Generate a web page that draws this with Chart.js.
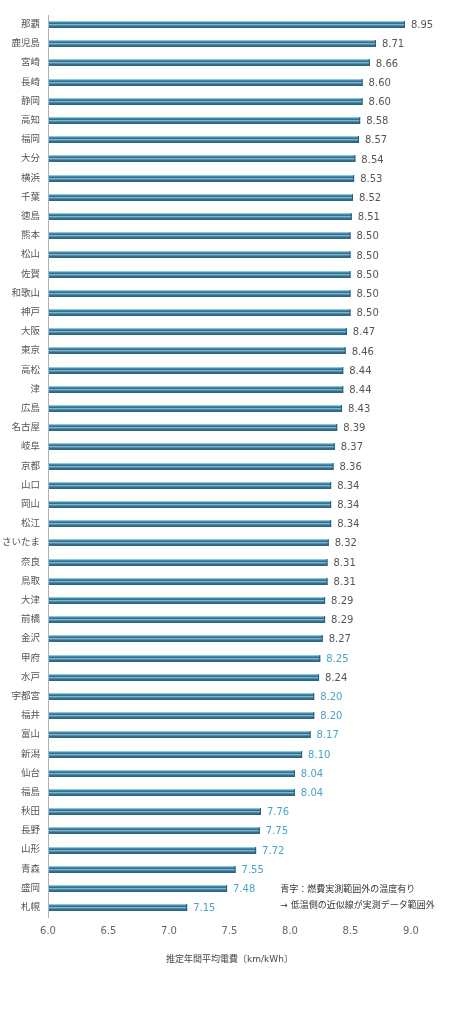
<!DOCTYPE html>
<html>
<head>
<meta charset="utf-8">
<script src="https://cdn.jsdelivr.net/npm/chart.js@4.4.1/dist/chart.umd.min.js"></script>
<style>
  html, body { margin: 0; padding: 0; background: #fff; }
  #wrap { width: 456px; height: 1024px; }
</style>
</head>
<body>
<div id="wrap"><canvas id="myChart" width="456" height="1024"></canvas></div>
<script>
// data
const cities = ['那覇', '鹿児島', '宮崎', '長崎', '静岡', '高知', '福岡', '大分', '横浜', '千葉',
  '徳島', '熊本', '松山', '佐賀', '和歌山', '神戸', '大阪', '東京', '高松', '津',
  '広島', '名古屋', '岐阜', '京都', '山口', '岡山', '松江', 'さいたま', '奈良', '鳥取',
  '大津', '前橋', '金沢', '甲府', '水戸', '宇都宮', '福井', '富山', '新潟', '仙台',
  '福島', '秋田', '長野', '山形', '青森', '盛岡', '札幌'];

const efficiency = [8.95, 8.71, 8.66, 8.60, 8.60, 8.58, 8.57, 8.54, 8.53, 8.52,
  8.51, 8.50, 8.50, 8.50, 8.50, 8.50, 8.47, 8.46, 8.44, 8.44,
  8.43, 8.39, 8.37, 8.36, 8.34, 8.34, 8.34, 8.32, 8.31, 8.31,
  8.29, 8.29, 8.27, 8.25, 8.24, 8.20, 8.20, 8.17, 8.10, 8.04,
  8.04, 7.76, 7.75, 7.72, 7.55, 7.48, 7.15];

// true = 燃費実測範囲外の温度有り (blue label)
const outOfRange = [false, false, false, false, false, false, false, false, false, false,
  false, false, false, false, false, false, false, false, false, false,
  false, false, false, false, false, false, false, false, false, false,
  false, false, false, true, false, true, true, true, true, true,
  true, true, true, true, true, true, true];

const xTicks = [6.0, 6.5, 7.0, 7.5, 8.0, 8.5, 9.0];
const axisTitle = '推定年間平均電費〔km/kWh〕';
const noteLines = ['青字：燃費実測範囲外の温度有り', '→ 低温側の近似線が実測データ範囲外'];

const FONT = '"DejaVu Sans", "Noto Sans CJK JP", sans-serif';

// stripes on each bar
const barStripes = {
  id: 'barStripes',
  afterDatasetsDraw(chart) {
    const c = chart.ctx;
    const area = chart.chartArea;
    const meta = chart.getDatasetMeta(0);
    const rows = ['#8cc4d8', '#4a8cac', '#336d8a', '#7fb8ce', '#4a8cac', '#336d8a', '#2f6580'];
    c.save();
    c.beginPath();
    c.rect(area.left, area.top, area.right - area.left, area.bottom - area.top);
    c.clip();
    meta.data.forEach(function(bar) {
      const left = area.left + 1;
      const w = bar.x - left;
      const top = Math.round(bar.y - rows.length / 2);
      rows.forEach(function(col, i) {
        c.fillStyle = col;
        c.fillRect(left, top + i, w, 1);
      });
      c.fillStyle = '#2a5d77';
      c.fillRect(bar.x - 1, top, 1, rows.length);
    });
    c.restore();
  }
};

// value labels + note
const valueLabels = {
  id: 'valueLabels',
  afterDraw(chart) {
    const c = chart.ctx;
    const meta = chart.getDatasetMeta(0);
    c.save();
    c.font = '10px ' + FONT;
    c.textBaseline = 'middle';
    c.textAlign = 'left';
    meta.data.forEach(function(bar, i) {
      c.fillStyle = outOfRange[i] ? '#4aa3c6' : '#555555';
      c.fillText(efficiency[i].toFixed(2), bar.x + 6, bar.y + 1);
    });
    const xs = chart.scales.x;
    const ys = chart.scales.y;
    c.font = '9px ' + FONT;
    c.fillStyle = '#333333';
    c.fillText(noteLines[0], xs.getPixelForValue(7.92), ys.getPixelForValue(45) + 1);
    c.fillText(noteLines[1], xs.getPixelForValue(7.92), ys.getPixelForValue(46) - 2);
    c.restore();
  }
};

const ctx = document.getElementById('myChart').getContext('2d');
const myChart = new Chart(ctx, {
  type: 'bar',
  data: {
    labels: cities,
    datasets: [{
      label: '',
      data: efficiency,
      backgroundColor: 'rgba(0,0,0,0)',
      borderWidth: 0,
      barThickness: 7
    }]
  },
  options: {
    indexAxis: 'y',
    responsive: false,
    animation: false,
    layout: {
      padding: { left: 0, right: 45, top: 15, bottom: 59 }
    },
    plugins: {
      legend: { display: false },
      tooltip: { enabled: false }
    },
    scales: {
      x: {
        type: 'linear',
        min: 6,
        max: 9,
        afterBuildTicks(axis) {
          axis.ticks = xTicks.map(function(v) { return { value: v }; });
        },
        grid: { display: false },
        border: { display: false },
        ticks: {
          color: '#666666',
          font: { family: FONT, size: 10 },
          padding: 0,
          callback: function(v) { return Number(v).toFixed(1); }
        },
        title: {
          display: true,
          text: axisTitle,
          color: '#444444',
          font: { family: FONT, size: 9 },
          padding: { top: 17, bottom: 0 }
        }
      },
      y: {
        grid: { display: false, drawTicks: false },
        border: { display: true, color: '#b0b0b0', width: 1 },
        afterFit(axis) { axis.width = 48; },
        ticks: {
          color: '#555555',
          font: { family: FONT, size: 9.5 },
          padding: 8,
          autoSkip: false
        }
      }
    }
  },
  plugins: [barStripes, valueLabels]
});
</script>
</body>
</html>
